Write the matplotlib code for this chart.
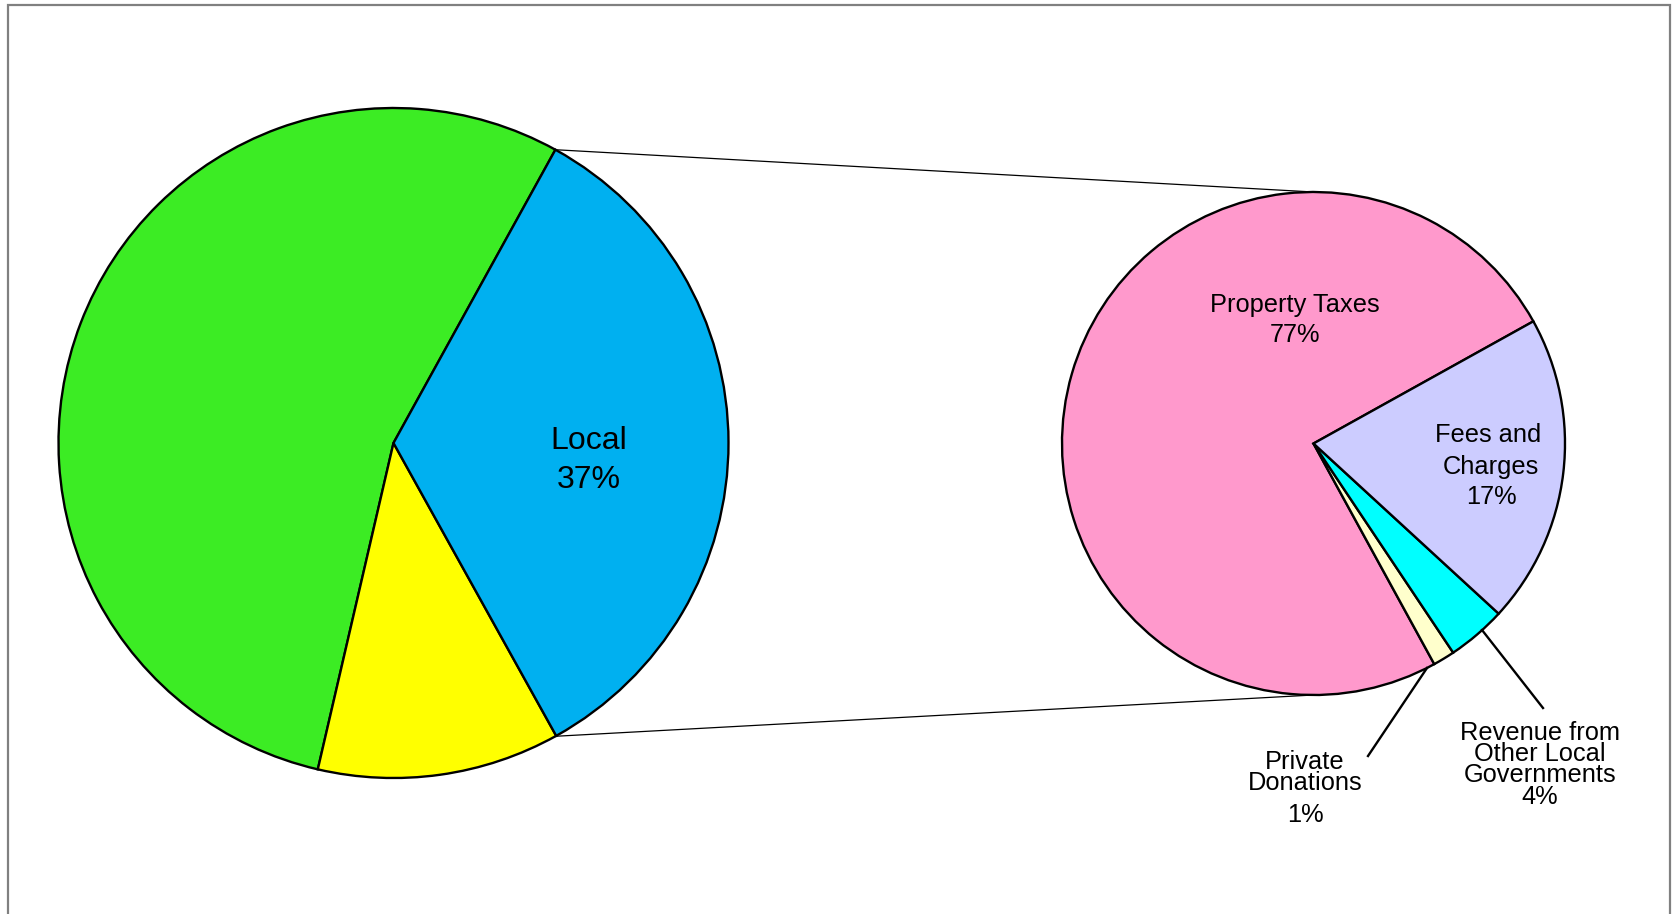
import numpy as np
import matplotlib
matplotlib.use("Agg")
import matplotlib.pyplot as plt
from matplotlib.patches import Rectangle

plt.rcParams['font.family'] = ['Liberation Sans', 'DejaVu Sans']

# ---- data ----
main_categories = ["Other", "Other 2", "Local"]
main_values = [54.4, 11.7, 33.9]          # drawn shares
main_labels = ["", "", "Local\n37%"]
main_colors = ["#3CEC24", "#FFFF00", "#00B0F0"]

sub_categories = ["Property Taxes", "Private Donations",
                  "Revenue from Other Local Governments", "Fees and Charges"]
sub_values = [74.9, 1.4, 3.8, 19.9]       # drawn shares
sub_pct_text = ["77%", "1%", "4%", "17%"]
sub_colors = ["#FF99CC", "#FFFFCC", "#00FFFF", "#CCCCFF"]

W, H = 1674, 914
fig = plt.figure(figsize=(W / 100, H / 100), dpi=100)
ax = fig.add_axes([0, 0, 1, 1])
ax.set_xlim(0, W)
ax.set_ylim(0, H)
ax.set_aspect('equal')
ax.axis('off')

# frame
ax.add_patch(Rectangle((8.5, -20), 1662, H - 5 + 20, fill=False,
                       edgecolor='#808080', linewidth=1.6, zorder=0))

lc, lr = (393.5, 471.0), 335.0
rc, rr = (1313.5, 470.5), 251.5
main_start = 61.1
sub_start = 29.06

wp = dict(edgecolor='black', linewidth=1.7)
ax.pie(main_values, colors=main_colors, startangle=main_start,
       center=lc, radius=lr, wedgeprops=wp, frame=True)
ax.pie(sub_values, colors=sub_colors, startangle=sub_start,
       center=rc, radius=rr, wedgeprops=wp, frame=True)
ax.set_xlim(0, W)
ax.set_ylim(0, H)
ax.axis('off')

# connector lines between the two pies
a_top = np.deg2rad(main_start)
for sgn in (1, -1):
    x0 = lc[0] + lr * np.cos(a_top)
    y0 = lc[1] + sgn * lr * np.sin(a_top)
    x1 = rc[0]
    y1 = rc[1] + sgn * rr
    ax.plot([x0, x1], [y0, y1], color='black', linewidth=0.9, zorder=1)

# leader lines
ax.plot([1427, 1368], [H - 668, H - 756], color='black', linewidth=1.7)
ax.plot([1482, 1543], [H - 630, H - 708], color='black', linewidth=1.7)

fs = 18.3
def t(x, y, s, size=fs):
    ax.text(x, H - y, s, ha='center', va='center', fontsize=size, color='black')

# main label
t(589, 441, "Local", 23)
t(589, 480, "37%", 23)

# sub labels
t(1295, 305, "Property Taxes")
t(1295, 335, sub_pct_text[0])
t(1488, 434.5, "Fees and")
t(1491, 466.5, "Charges")
t(1491, 497.5, sub_pct_text[3])
t(1305, 762, "Private")
t(1305, 783, "Donations")
t(1305, 815, sub_pct_text[1])
t(1540, 733, "Revenue from")
t(1540, 754, "Other Local")
t(1540, 775, "Governments")
t(1540, 797, sub_pct_text[2])

fig.savefig("out.png", dpi=100)
